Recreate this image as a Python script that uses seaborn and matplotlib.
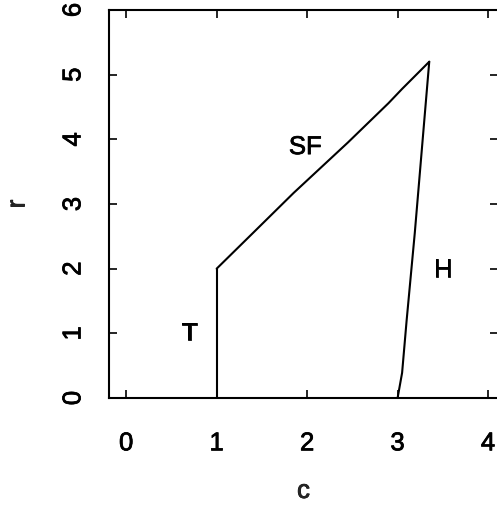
import matplotlib
matplotlib.use("Agg")
import matplotlib.pyplot as plt
import matplotlib.patheffects as pe
import seaborn as sns
import pandas as pd

# Phase boundaries in the (c, r) plane
t_c = [1.0, 1.0]
t_r = [0.0, 2.0]

sf_c = [1.0, 1.40, 1.85, 2.45, 2.90, 3.05, 3.35]
sf_r = [2.0, 2.55, 3.17, 3.95, 4.56, 4.78, 5.20]

h_c = [3.35, 3.19, 3.10, 3.05, 3.00]
h_r = [5.20, 2.55, 1.20, 0.39, 0.00]

region_names = ["T", "SF", "H"]
region_c = [0.70, 1.98, 3.50]
region_r = [1.00, 3.88, 1.98]

x_ticks = [0, 1, 2, 3, 4]
y_ticks = [0, 1, 2, 3, 4, 5, 6]

sns.set_style("ticks")
plt.rcParams["font.family"] = ["Liberation Sans", "DejaVu Sans"]

fig = plt.figure(figsize=(4.97, 5.09), dpi=100)
ax = fig.add_axes([109 / 497, 111 / 509, 389 / 497, 388 / 509])

segments = [
    pd.DataFrame({"c": t_c, "r": t_r}),
    pd.DataFrame({"c": sf_c, "r": sf_r}),
    pd.DataFrame({"c": h_c, "r": h_r}),
]
for seg in segments:
    sns.lineplot(data=seg, x="c", y="r", sort=False, estimator=None,
                 color="black", linewidth=1.5, ax=ax)

fs = 18.5
heavy = [pe.withStroke(linewidth=0.55, foreground="black")]

for name, cx, ry in zip(region_names, region_c, region_r):
    ax.text(cx, ry, name, fontsize=fs, ha="center", va="center", color="black",
            path_effects=heavy)

ax.set_xlim(-0.19, 4.11)
ax.set_ylim(0, 6)
ax.set_xticks(x_ticks)
ax.set_yticks(y_ticks)
ax.set_xticklabels([str(v) for v in x_ticks], fontsize=fs)
ax.set_yticklabels([str(v) for v in y_ticks], fontsize=fs, rotation=90, va="center")
ax.tick_params(direction="in", length=6, width=1.2, top=True, right=True,
               color="black", labelcolor="black")
ax.tick_params(axis="x", pad=24)
ax.tick_params(axis="y", pad=17)

ax.set_xlabel("c", fontsize=fs, labelpad=17, path_effects=heavy)
ax.set_ylabel("r", fontsize=fs, labelpad=23, path_effects=heavy)

for lbl in ax.get_xticklabels() + ax.get_yticklabels():
    lbl.set_path_effects(heavy)

for sp in ax.spines.values():
    sp.set_visible(True)
    sp.set_linewidth(1.5)
    sp.set_color("black")

fig.savefig("out.png", dpi=100)
